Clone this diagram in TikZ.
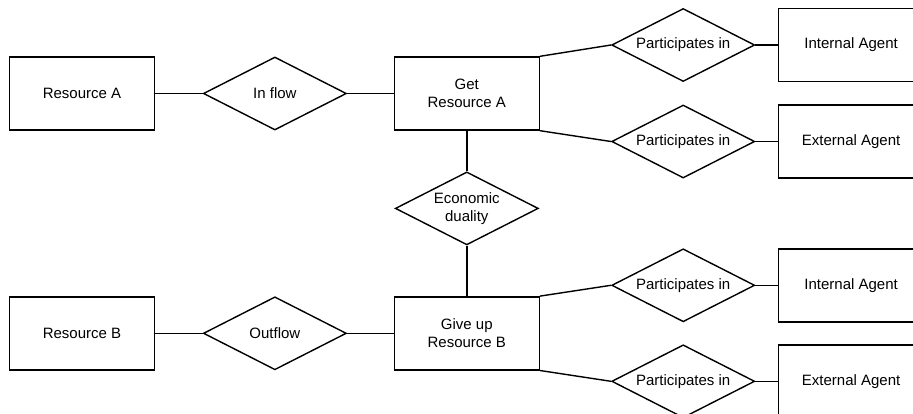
\documentclass[tikz,border=0pt]{standalone}
\usepackage{fontspec}
\setmainfont{Liberation Sans}
\usepackage{tikz}
\usetikzlibrary{shapes.geometric}

\tikzset{
  ent/.style={draw,rectangle,minimum width=145pt,minimum height=73pt,inner sep=0pt,align=center},
  rel/.style={draw,diamond,aspect=2,minimum width=143pt,minimum height=73pt,inner sep=0pt,align=center}
}

\begin{document}
\begin{tikzpicture}[x=1pt,y=1pt,line width=1.4pt,font=\fontsize{15}{18}\selectfont]
\useasboundingbox (0,0) rectangle (913,-413);
\clip (0,0) rectangle (913,-413);

\node [ent] (resA) at (82,-93.5) {Resource A};
\node [rel,right=47.5pt,at=(resA.east)] (inflow) {In flow};
\node [ent,right=46.5pt,at=(inflow.east)] (getA) {Get\\Resource A};
\node [rel,below=40.5pt,at=(getA.south)] (duality) {Economic\\duality};
\node [ent,below=50.5pt,at=(duality.south)] (giveB) {Give up\\Resource B};
\node [rel,left=46.5pt,at=(giveB.west)] (outflow) {Outflow};
\node [ent,left=47.5pt,at=(outflow.west)] (resB) {Resource B};

\node [rel,anchor=west,xshift=71pt,yshift=48.5pt,at=(getA.east)] (partIntA) {Participates in};
\node [rel,anchor=west,xshift=71pt,yshift=-48pt,at=(getA.east)] (partExtA) {Participates in};
\node [ent,right=22.5pt,at=(partIntA.east)] (intA) {Internal Agent};
\node [ent,right=22.5pt,at=(partExtA.east)] (extA) {External Agent};

\node [rel,anchor=west,xshift=71pt,yshift=48pt,at=(giveB.east)] (partIntB) {Participates in};
\node [rel,anchor=west,xshift=71pt,yshift=-48pt,at=(giveB.east)] (partExtB) {Participates in};
\node [ent,right=22.5pt,at=(partIntB.east)] (intB) {Internal Agent};
\node [ent,right=22.5pt,at=(partExtB.east)] (extB) {External Agent};

\draw (resA) -- (inflow);
\draw (inflow) -- (getA);
\draw (getA) -- (duality);
\draw (duality) -- (giveB);
\draw (resB) -- (outflow);
\draw (outflow) -- (giveB);

\draw (getA.north east) -- (partIntA.west);
\draw (getA.south east) -- (partExtA.west);
\draw (partIntA) -- (intA);
\draw (partExtA) -- (extA);
\draw (giveB.north east) -- (partIntB.west);
\draw (giveB.south east) -- (partExtB.west);
\draw (partIntB) -- (intB);
\draw (partExtB) -- (extB);
\end{tikzpicture}
\end{document}
